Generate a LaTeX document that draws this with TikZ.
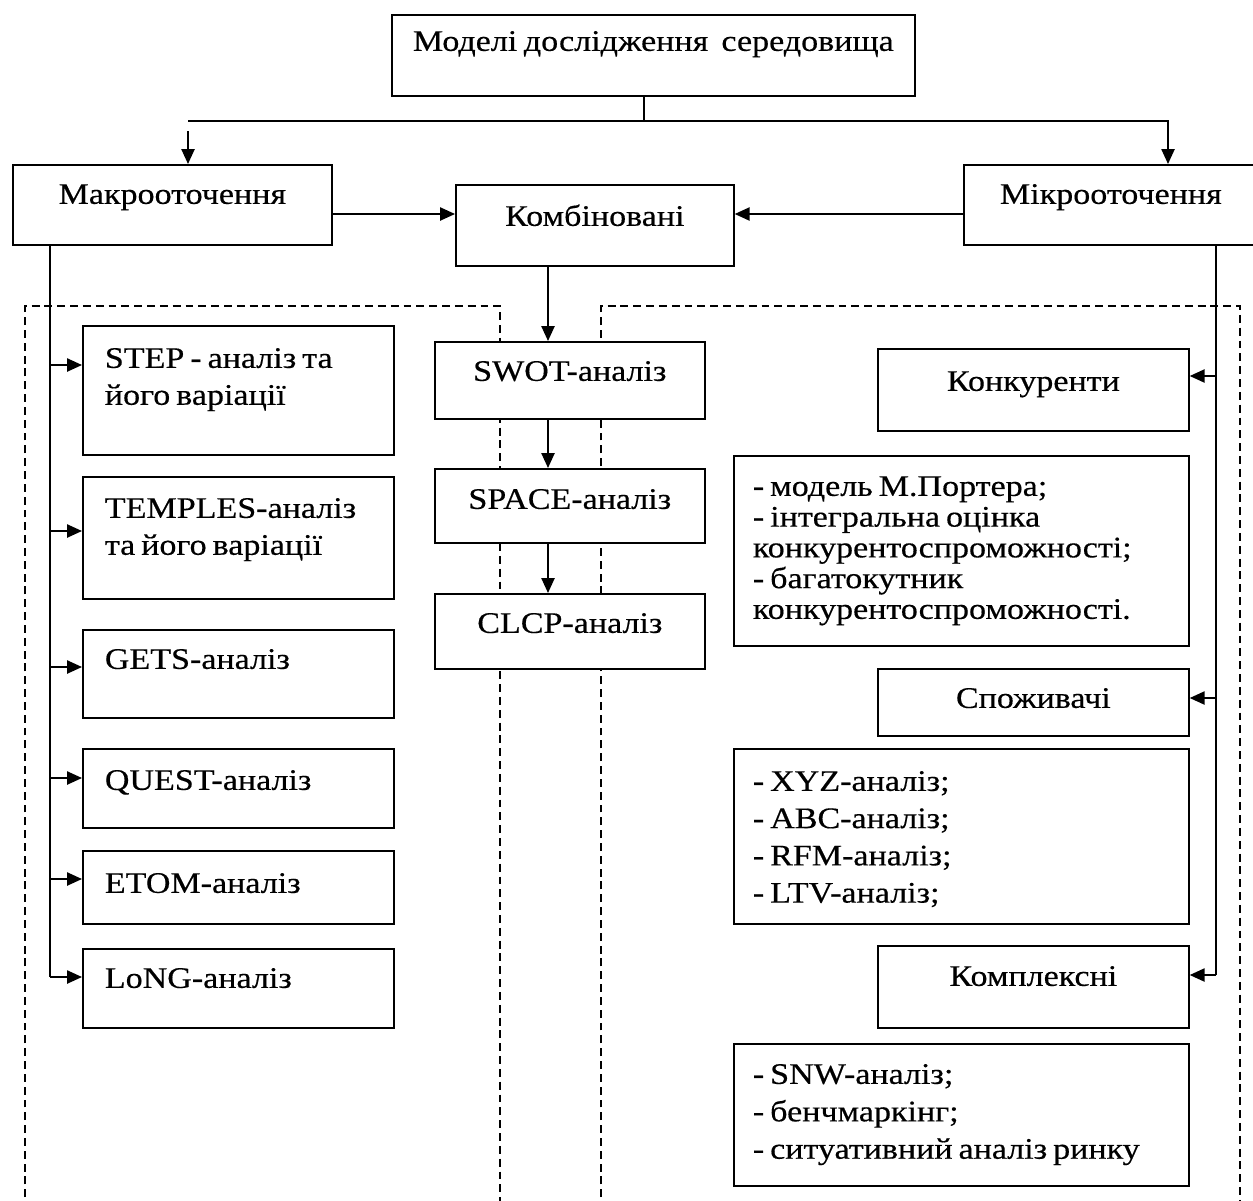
\documentclass[tikz,border=0pt]{standalone}
\usepackage{fontspec}
\setmainfont[FakeStretch=1.14,FakeBold=0.4]{Liberation Serif}
\usetikzlibrary{arrows.meta}
\begin{document}
\begin{tikzpicture}[x=0.02cm,y=-0.02cm,font=\fontsize{17pt}{21pt}\selectfont,
  box/.style={draw,fill=white,line width=1pt,anchor=north west,inner ysep=0pt,inner xsep=0pt,align=center,
    execute at begin node={\spaceskip=3.4pt plus 1pt minus 0.5pt}},
  lbox/.style={box,inner xsep=0.44cm,text width=5.34cm,align=left},
  tbox/.style={box,inner xsep=0.38cm,text width=8.34cm,align=left},
  arr/.style={line width=1pt,-{Triangle[length=8.5pt,width=7.5pt]}},
  zone/.style={line width=0.8pt,dash pattern=on 4.5pt off 2.8pt}]
\clip (0,0) rectangle (1253,1200);
\draw[zone] (25,1210) -- (25,306) -- (500,306) -- (500,1210);
\draw[zone] (601,1210) -- (601,306) -- (1240,306) -- (1240,1210);
\node[box,text width=10.46cm,text height=0.72cm,text depth=0.90cm] (model) at (391,14) {Моделі дослідження~ середовища};
\node[box,text width=6.38cm,text height=0.78cm,text depth=0.82cm] (macro) at (12,164) {Макрооточення};
\node[box,text width=5.56cm,text height=0.82cm,text depth=0.80cm] (komb) at (455,184) {Комбіновані};
\node[box,text width=5.88cm,text height=0.78cm,text depth=0.82cm] (micro) at (963,164) {Мікрооточення};
\node[box,text width=5.40cm,text height=0.78cm,text depth=0.76cm] (swot) at (434,341) {SWOT-аналіз};
\node[box,text width=5.40cm,text height=0.80cm,text depth=0.68cm] (space) at (434,468) {SPACE-аналіз};
\node[box,text width=5.40cm,text height=0.78cm,text depth=0.72cm] (clcp) at (434,593) {CLCP-аналіз};
\node[lbox,text height=0.84cm,text depth=1.74cm] (step) at (82,325) {STEP - аналіз та\\ його варіації};
\node[lbox,text height=0.82cm,text depth=1.62cm] (temples) at (82,476) {TEMPLES-аналіз\\ та його варіації};
\node[lbox,text height=0.78cm,text depth=0.98cm] (gets) at (82,629) {GETS-аналіз};
\node[lbox,text height=0.82cm,text depth=0.76cm] (quest) at (82,748) {QUEST-аналіз};
\node[lbox,text height=0.84cm,text depth=0.62cm] (etom) at (82,850) {ETOM-аналіз};
\node[lbox,text height=0.78cm,text depth=0.80cm] (long) at (82,948) {LoNG-аналіз};
\node[box,text width=6.22cm,text height=0.84cm,text depth=0.80cm] (konk) at (877,348) {Конкуренти};
\node[tbox,font=\fontsize{17pt}{17.5pt}\selectfont,text height=0.80cm,text depth=3.00cm] (porter) at (733,455) {- модель М.Портера;\\ - інтегральна оцінка\\ конкурентоспроможності;\\ - багатокутник\\ конкурентоспроможності.};
\node[box,text width=6.22cm,text height=0.78cm,text depth=0.56cm] (spozh) at (877,668) {Споживачі};
\node[tbox,font=\fontsize{17pt}{21.2pt}\selectfont,text height=0.84cm,text depth=2.66cm] (xyz) at (733,748) {- XYZ-аналіз;\\ - ABC-аналіз;\\ - RFM-аналіз;\\ - LTV-аналіз;};
\node[box,text width=6.22cm,text height=0.80cm,text depth=0.84cm] (kompl) at (877,945) {Комплексні};
\node[tbox,font=\fontsize{17pt}{21.3pt}\selectfont,text height=0.80cm,text depth=2.04cm] (snw) at (733,1043) {- SNW-аналіз;\\ - бенчмаркінг;\\ - ситуативний аналіз ринку};
\coordinate (split) at (644,121);
\coordinate (lstart) at (188,121);
\coordinate (lgap) at (188,131);
\coordinate (rturn) at (1168,121);
\coordinate (hline) at (0,214);
\coordinate (midx) at (548,0);
\coordinate (ltrunk) at (50,0);
\coordinate (rtrunk) at (1216,0);
\draw[line width=1pt] (model.south -| split) -- (split);
\draw[arr] (lstart) -- (rturn) -- (rturn |- micro.north);
\draw[arr] (lgap) -- (lgap |- macro.north);
\draw[arr] (macro.east |- hline) -- (komb.west |- hline);
\draw[arr] (micro.west |- hline) -- (komb.east |- hline);
\draw[arr] (komb.south -| midx) -- (swot.north -| midx);
\draw[arr] (swot.south -| midx) -- (space.north -| midx);
\draw[arr] (space.south -| midx) -- (clcp.north -| midx);
\draw[line width=1pt] (macro.south -| ltrunk) -- (ltrunk |- 0,977);
\foreach \n/\y in {step/365,temples/531,gets/667,quest/778,etom/879,long/977}
  \draw[arr] (ltrunk |- 0,\y) -- (\n.west |- 0,\y);
\draw[line width=1pt] (micro.south -| rtrunk) -- (rtrunk |- 0,975);
\foreach \n/\y in {konk/376,spozh/698,kompl/975}
  \draw[arr] (rtrunk |- 0,\y) -- (\n.east |- 0,\y);
\end{tikzpicture}
\end{document}
